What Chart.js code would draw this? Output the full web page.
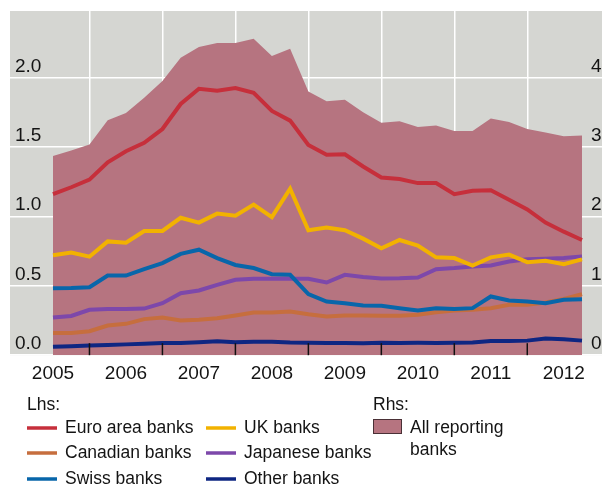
<!DOCTYPE html>
<html>
<head>
<meta charset="utf-8">
<script src="https://cdn.jsdelivr.net/npm/chart.js@4.4.0/dist/chart.umd.min.js"></script>
<style>
  html, body { margin: 0; padding: 0; background: #fff; }
</style>
</head>
<body>
<canvas id="myChart" width="602" height="488"></canvas>
<script>
// quarter-end dates as decimal years
const quarters = [2005.5, 2005.75, 2006, 2006.25, 2006.5, 2006.75, 2007, 2007.25, 2007.5, 2007.75,
  2008, 2008.25, 2008.5, 2008.75, 2009, 2009.25, 2009.5, 2009.75, 2010, 2010.25,
  2010.5, 2010.75, 2011, 2011.25, 2011.5, 2011.75, 2012, 2012.25, 2012.5, 2012.75];
const years = [2005, 2006, 2007, 2008, 2009, 2010, 2011, 2012];

// Lhs series
const euroArea = [1.16, 1.21, 1.265, 1.39, 1.47, 1.53, 1.63, 1.81, 1.92, 1.905, 1.925, 1.89, 1.76, 1.69, 1.515,
  1.445, 1.447, 1.36, 1.28, 1.27, 1.24, 1.24, 1.16, 1.185, 1.188, 1.12, 1.05, 0.955, 0.89, 0.83];
const ukBanks = [0.72, 0.74, 0.71, 0.82, 0.81, 0.895, 0.895, 0.99, 0.955, 1.02, 1.005, 1.085, 0.995, 1.2, 0.9,
  0.92, 0.9, 0.84, 0.77, 0.83, 0.79, 0.705, 0.7, 0.645, 0.705, 0.725, 0.67, 0.68, 0.655, 0.69];
const swissBanks = [0.483, 0.485, 0.49, 0.574, 0.574, 0.62, 0.664, 0.73, 0.76, 0.7, 0.65, 0.628, 0.584, 0.579, 0.44,
  0.387, 0.375, 0.358, 0.356, 0.339, 0.322, 0.339, 0.332, 0.339, 0.423, 0.394, 0.387, 0.375, 0.399, 0.404];
const japaneseBanks = [0.271, 0.283, 0.327, 0.332, 0.332, 0.336, 0.375, 0.447, 0.466, 0.507, 0.543, 0.55, 0.55, 0.55, 0.55,
  0.524, 0.579, 0.563, 0.553, 0.555, 0.56, 0.62, 0.628, 0.639, 0.647, 0.675, 0.692, 0.695, 0.7, 0.712];
const canadianBanks = [0.16, 0.16, 0.173, 0.214, 0.226, 0.26, 0.271, 0.25, 0.255, 0.267, 0.286, 0.307, 0.307, 0.315, 0.295,
  0.279, 0.286, 0.286, 0.284, 0.284, 0.291, 0.31, 0.322, 0.327, 0.339, 0.363, 0.363, 0.38, 0.406, 0.44];
const otherBanks = [0.06, 0.065, 0.07, 0.074, 0.078, 0.083, 0.088, 0.088, 0.093, 0.1, 0.094, 0.097, 0.097, 0.091, 0.09,
  0.088, 0.088, 0.087, 0.09, 0.088, 0.089, 0.088, 0.09, 0.092, 0.102, 0.102, 0.105, 0.12, 0.115, 0.105];
// Rhs series
const allReporting = [2.87, 2.95, 3.035, 3.385, 3.49, 3.71, 3.95, 4.285, 4.44, 4.5, 4.5, 4.56, 4.31, 4.415, 3.8,
  3.66, 3.68, 3.5, 3.35, 3.37, 3.29, 3.31, 3.23, 3.23, 3.41, 3.36, 3.26, 3.21, 3.155, 3.165];

const lhsLabels = ["Euro area banks", "UK banks", "Canadian banks", "Japanese banks", "Swiss banks", "Other banks"];
const lhsColors = ["#c62f3b", "#f2b200", "#c66e3e", "#7d48aa", "#0866aa", "#0e2682"];
const rhsLabel = ["All reporting", "banks"];
const fillColor = "#b67480";

const FONT = '"Liberation Sans", Arial, sans-serif';
const TEXT = "#141414";

const pts = (arr) => arr.map((v, i) => ({ x: quarters[i], y: v }));
const line = (label, data, color) => ({
  label, data: pts(data), yAxisID: "y", borderColor: color, borderWidth: 4,
  pointRadius: 0, fill: false, tension: 0
});

const decor = {
  id: "decor",
  beforeDraw(chart) {
    const { ctx, chartArea: a } = chart;
    ctx.save();
    ctx.fillStyle = "#d5d6d2";
    ctx.fillRect(a.left, a.top, a.right - a.left, a.bottom - a.top);
    ctx.restore();
  },
  afterDatasetsDraw(chart) {
    // small tick marks at year boundaries
    const { ctx, chartArea: a, scales } = chart;
    ctx.save();
    ctx.strokeStyle = "#111";
    ctx.lineWidth = 1.5;
    years.slice(1).forEach((yr) => {
      const x = scales.x.getPixelForValue(yr);
      ctx.beginPath();
      ctx.moveTo(x, a.bottom - 12);
      ctx.lineTo(x, a.bottom);
      ctx.stroke();
    });
    ctx.restore();
  },
  afterDraw(chart) {
    const { ctx, scales } = chart;
    ctx.save();
    ctx.fillStyle = TEXT;
    ctx.font = "19px " + FONT;
    ctx.textBaseline = "alphabetic";
    ctx.textAlign = "left";
    scales.y.ticks.forEach((t) => {
      ctx.fillText(t.value.toFixed(1), 15, scales.y.getPixelForValue(t.value) - 6);
    });
    scales.y2.ticks.forEach((t) => {
      ctx.fillText(String(t.value), 591, scales.y2.getPixelForValue(t.value) - 6);
    });

    // legend
    ctx.font = "17.5px " + FONT;
    ctx.textBaseline = "middle";
    ctx.fillText("Lhs:", 27, 405);
    ctx.fillText("Rhs:", 373, 405);
    const rowsY = [428, 453, 479];
    const cols = [{ sx: 27, tx: 65 }, { sx: 206, tx: 244 }];
    lhsLabels.forEach((lab, i) => {
      const c = cols[i % 2];
      const y = rowsY[Math.floor(i / 2)];
      ctx.strokeStyle = lhsColors[i];
      ctx.lineWidth = 3.5;
      ctx.beginPath();
      ctx.moveTo(c.sx, y);
      ctx.lineTo(c.sx + 30, y);
      ctx.stroke();
      ctx.fillStyle = TEXT;
      ctx.fillText(lab, c.tx, y);
    });
    ctx.fillStyle = fillColor;
    ctx.fillRect(373.5, 419.5, 28, 14);
    ctx.strokeStyle = "#4a3036";
    ctx.lineWidth = 1;
    ctx.strokeRect(373.5, 419.5, 28, 14);
    ctx.fillStyle = TEXT;
    ctx.fillText(rhsLabel[0], 410, 428);
    ctx.fillText(rhsLabel[1], 410, 450);
    ctx.restore();
  }
};

new Chart(document.getElementById("myChart"), {
  type: "line",
  data: {
    datasets: [
      line(lhsLabels[0], euroArea, lhsColors[0]),
      line(lhsLabels[1], ukBanks, lhsColors[1]),
      line(lhsLabels[4], swissBanks, lhsColors[4]),
      line(lhsLabels[3], japaneseBanks, lhsColors[3]),
      line(lhsLabels[2], canadianBanks, lhsColors[2]),
      line(lhsLabels[5], otherBanks, lhsColors[5]),
      {
        label: rhsLabel.join(" "), data: pts(allReporting), yAxisID: "y2",
        backgroundColor: fillColor, borderWidth: 0, pointRadius: 0, fill: "origin", tension: 0
      }
    ]
  },
  options: {
    responsive: false,
    animation: false,
    devicePixelRatio: 1,
    layout: { padding: { left: 10, top: 11, right: 0, bottom: 96 } },
    plugins: { legend: { display: false }, tooltip: { enabled: false } },
    scales: {
      x: {
        type: "linear",
        min: 2004.911,
        max: 2013.024,
        afterBuildTicks: (s) => {
          const t = [];
          years.forEach((yr) => {
            if (yr > years[0]) t.push({ value: yr });
            t.push({ value: yr + 0.5 });
          });
          s.ticks = t;
        },
        border: { display: false },
        grid: {
          drawTicks: false,
          lineWidth: 1.5,
          color: (c) => (c.tick && c.tick.value % 1 === 0 ? "#ffffff" : "rgba(0,0,0,0)")
        },
        ticks: {
          autoSkip: false,
          maxRotation: 0,
          padding: 7,
          color: TEXT,
          font: { size: 19, family: FONT },
          callback: (v) => (v % 1 === 0.5 ? String(Math.floor(v)) : "")
        }
      },
      y: {
        position: "left",
        min: 0,
        max: 2.48,
        border: { display: false },
        grid: { drawTicks: false, color: "#ffffff", lineWidth: 1.5 },
        ticks: { display: false, stepSize: 0.5, includeBounds: false }
      },
      y2: {
        position: "right",
        min: 0,
        max: 4.96,
        border: { display: false },
        grid: { display: false, drawTicks: false },
        ticks: { display: false, stepSize: 1, includeBounds: false }
      }
    }
  },
  plugins: [decor]
});
</script>
</body>
</html>
